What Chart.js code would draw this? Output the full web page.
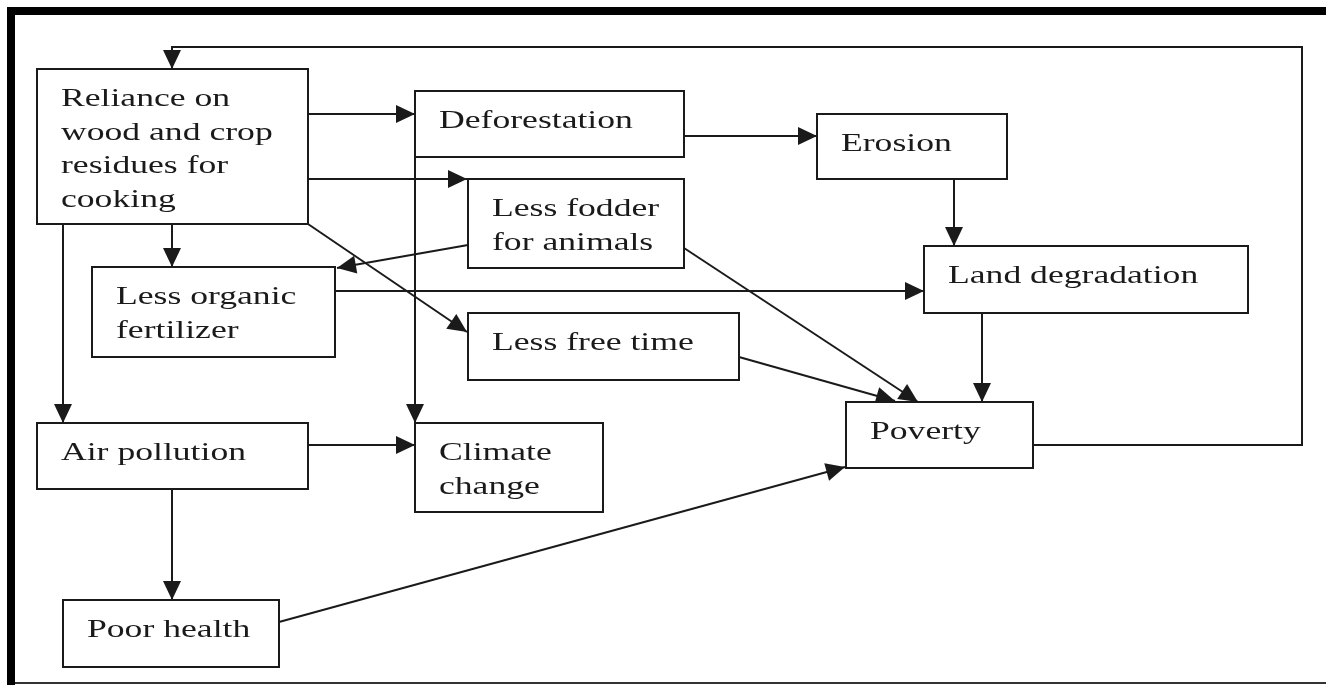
<!DOCTYPE html>
<html>
<head>
<meta charset="utf-8">
<script src="https://cdn.jsdelivr.net/npm/chart.js@4.4.1/dist/chart.umd.min.js"></script>
<style>
    html, body { margin: 0; padding: 0; background: #fff; }
    #wrap { width: 1326px; height: 685px; position: relative; }
</style>
</head>
<body>
<div id="wrap"><canvas id="flowChart"></canvas></div>
<script>
// Diagram content - node labels and node extents in diagram units
const nodeLabels = [
    ['Reliance on', 'wood and crop', 'residues for', 'cooking'],
    ['Deforestation'],
    ['Less fodder', 'for animals'],
    ['Erosion'],
    ['Land degradation'],
    ['Less organic', 'fertilizer'],
    ['Less free time'],
    ['Poverty'],
    ['Air pollution'],
    ['Climate', 'change'],
    ['Poor health']
];
const nodeLeft   = [37, 415, 468, 817, 924, 92, 468, 846, 37, 415, 63];
const nodeTop    = [69, 91, 179, 114, 246, 267, 313, 402, 423, 423, 600];
const nodeRight  = [308, 684, 684, 1007, 1248, 335, 739, 1033, 308, 603, 279];
const nodeBottom = [224, 157, 268, 179, 313, 357, 380, 468, 489, 512, 667];

// Connections - each one is a polyline, last point is the arrow tip
const arrowPaths = [
    [[1033, 445], [1302, 445], [1302, 47], [172, 47], [172, 69]],   // poverty loops back
    [[308, 114], [415, 114]],                                       // -> deforestation
    [[308, 179], [467, 179]],                                       // -> less fodder
    [[172, 224], [172, 267]],                                       // -> less organic fertilizer
    [[63, 224], [63, 423]],                                         // -> air pollution
    [[308, 224], [467, 332]],                                       // -> less free time
    [[468, 245], [337, 268]],                                       // fodder -> fertilizer
    [[335, 291], [924, 291]],                                       // fertilizer -> land degradation
    [[684, 136], [817, 136]],                                       // deforestation -> erosion
    [[415, 157], [415, 423]],                                       // deforestation -> climate change
    [[954, 179], [954, 246]],                                       // erosion -> land degradation
    [[982, 313], [982, 402]],                                       // land degradation -> poverty
    [[684, 248], [918, 402]],                                       // fodder -> poverty
    [[739, 357], [895, 401]],                                       // free time -> poverty
    [[308, 445], [415, 445]],                                       // air pollution -> climate change
    [[172, 489], [172, 600]],                                       // air pollution -> poor health
    [[279, 622], [845, 467]]                                        // poor health -> poverty
];

const INK = '#1a1a1a';

// Draws the frame, boxes, arrows and labels on the chart area
const flowPlugin = {
    id: 'flowDiagram',
    beforeDraw(chart) {
        const ctx = chart.ctx;
        ctx.save();
        ctx.fillStyle = '#ffffff';
        ctx.fillRect(0, 0, chart.width, chart.height);
        // picture frame: thick top/left, thin bottom
        ctx.fillStyle = '#000';
        ctx.fillRect(7, 7, chart.width - 7, 8);
        ctx.fillRect(7, 7, 8, chart.height - 7);
        ctx.fillStyle = '#333';
        ctx.fillRect(15, 682, chart.width - 15, 2);
        ctx.restore();
    },
    afterDatasetsDraw(chart) {
        const ctx = chart.ctx;
        const xs = chart.scales.x;
        const ys = chart.scales.y;
        const px = v => xs.getPixelForValue(v);
        const py = v => ys.getPixelForValue(v);

        ctx.save();
        ctx.strokeStyle = INK;
        ctx.fillStyle = INK;
        ctx.lineWidth = 2;
        ctx.lineJoin = 'miter';

        // arrows
        arrowPaths.forEach(path => {
            ctx.beginPath();
            path.forEach((p, i) => {
                if (i === 0) ctx.moveTo(px(p[0]), py(p[1]));
                else ctx.lineTo(px(p[0]), py(p[1]));
            });
            ctx.stroke();

            const a = path[path.length - 2];
            const b = path[path.length - 1];
            const tx = px(b[0]), ty = py(b[1]);
            const ang = Math.atan2(ty - py(a[1]), tx - px(a[0]));
            const len = 19, half = 9;
            ctx.beginPath();
            ctx.moveTo(tx, ty);
            ctx.lineTo(tx - len * Math.cos(ang) + half * Math.sin(ang), ty - len * Math.sin(ang) - half * Math.cos(ang));
            ctx.lineTo(tx - len * Math.cos(ang) - half * Math.sin(ang), ty - len * Math.sin(ang) + half * Math.cos(ang));
            ctx.closePath();
            ctx.fill();
        });

        // boxes and labels
        ctx.font = '26px "Liberation Serif", "Times New Roman", serif';
        ctx.textBaseline = 'alphabetic';
        nodeLabels.forEach((lines, i) => {
            const x0 = px(nodeLeft[i]), x1 = px(nodeRight[i]);
            const y0 = py(nodeTop[i]), y1 = py(nodeBottom[i]);
            ctx.fillStyle = '#fff';
            ctx.fillRect(x0, y0, x1 - x0, y1 - y0);
            ctx.lineWidth = 2;
            ctx.strokeRect(x0, y0, x1 - x0, y1 - y0);

            ctx.fillStyle = INK;
            lines.forEach((txt, j) => {
                ctx.save();
                ctx.translate(x0 + 24, y0 + 37 + j * 33.5);
                ctx.scale(1.37, 1);   // source picture is stretched horizontally
                ctx.fillText(txt, 0, 0);
                ctx.restore();
            });
        });
        ctx.restore();
    }
};

// Node centres as an (invisible) dataset so the scales own the layout
const centres = nodeLabels.map((l, i) => ({
    x: (nodeLeft[i] + nodeRight[i]) / 2,
    y: (nodeTop[i] + nodeBottom[i]) / 2
}));

new Chart(document.getElementById('flowChart'), {
    type: 'scatter',
    data: {
        datasets: [{
            label: 'Nodes',
            data: centres,
            pointRadius: 0,
            pointHoverRadius: 0
        }]
    },
    options: {
        responsive: true,
        maintainAspectRatio: false,
        animation: false,
        layout: { padding: 0 },
        plugins: {
            legend: { display: false },
            tooltip: { enabled: false }
        },
        scales: {
            x: { type: 'linear', min: 0, max: 1326, display: false },
            y: { type: 'linear', min: 0, max: 685, reverse: true, display: false }
        }
    },
    plugins: [flowPlugin]
});
</script>
</body>
</html>
